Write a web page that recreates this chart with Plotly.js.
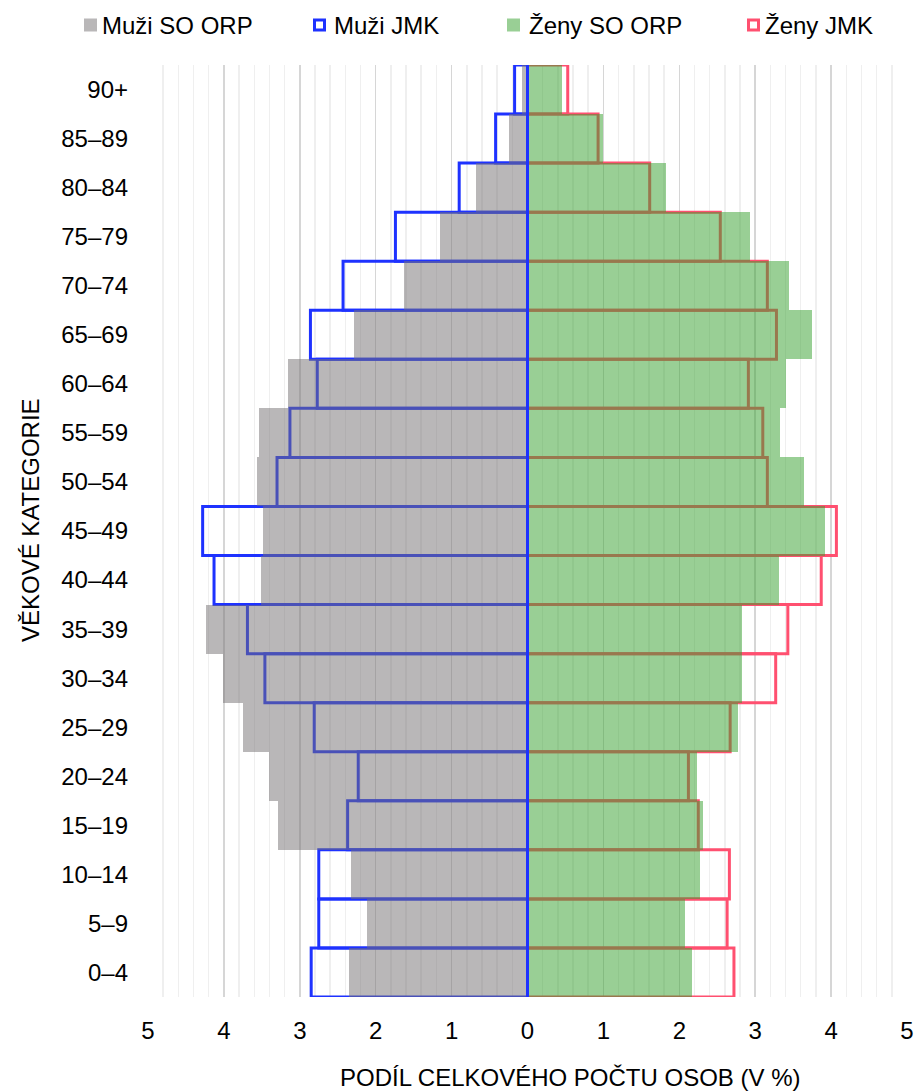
<!DOCTYPE html>
<html>
<head>
<meta charset="utf-8">
<script src="https://cdn.plot.ly/plotly-3.0.1.min.js"></script>
<style>
  html, body { margin: 0; padding: 0; background: #fff; }
  #chart { width: 914px; height: 1092px; }
</style>
</head>
<body>
<div id="chart"></div>
<script>
// ---- data ----
var categories = ['0–4','5–9','10–14','15–19','20–24','25–29','30–34','35–39','40–44','45–49','50–54','55–59','60–64','65–69','70–74','75–79','80–84','85–89','90+'];
var muziSO  = [2.35, 2.12, 2.32, 3.29, 3.40, 3.75, 4.01, 4.24, 3.51, 3.48, 3.57, 3.54, 3.16, 2.29, 1.63, 1.15, 0.68, 0.25, 0.07];
var muziJMK = [2.85, 2.75, 2.75, 2.37, 2.23, 2.81, 3.46, 3.69, 4.13, 4.28, 3.30, 3.13, 2.77, 2.86, 2.43, 1.74, 0.90, 0.42, 0.17];
var zenySO  = [2.17, 2.08, 2.27, 2.31, 2.23, 2.77, 2.83, 2.83, 3.32, 3.92, 3.64, 3.33, 3.40, 3.75, 3.45, 2.93, 1.83, 1.00, 0.45];
var zenyJMK = [2.72, 2.63, 2.66, 2.25, 2.12, 2.67, 3.27, 3.43, 3.87, 4.07, 3.16, 3.10, 2.91, 3.28, 3.16, 2.54, 1.61, 0.93, 0.53];
var seriesNames = ['Muži SO ORP', 'Muži JMK', 'Ženy SO ORP', 'Ženy JMK'];
var xTickVals = [-5, -4, -3, -2, -1, 0, 1, 2, 3, 4, 5];
var xTickText = ['5', '4', '3', '2', '1', '0', '1', '2', '3', '4', '5'];
var xTitle = 'PODÍL CELKOVÉHO POČTU OSOB (V %)';
var yTitle = 'VĚKOVÉ KATEGORIE';

// ---- styles ----
var FONT = '"Liberation Sans", Arial, sans-serif';
var BLUE = 'rgb(30,50,255)';
var RED = 'rgb(255,80,112)';
var GREY = 'rgba(115,111,113,0.5)';
var GREEN = 'rgba(51,160,44,0.5)';
var W = 914, H = 1092;
var M = {l: 148, r: 7, t: 65, b: 95};
var PW = W - M.l - M.r, PH = H - M.t - M.b;
function PX(x) { return (x - M.l) / PW; }
function PY(y) { return (H - M.b - y) / PH; }

function neg(a) { return a.map(function (v) { return -v; }); }

var traces = [
  { type: 'bar', orientation: 'h', name: seriesNames[1], y: categories, x: neg(muziJMK),
    marker: { color: 'rgba(0,0,0,0)', line: { color: BLUE, width: 3 } }, showlegend: false, hoverinfo: 'skip' },
  { type: 'bar', orientation: 'h', name: seriesNames[3], y: categories, x: zenyJMK,
    marker: { color: 'rgba(0,0,0,0)', line: { color: RED, width: 3 } }, showlegend: false, hoverinfo: 'skip' },
  { type: 'bar', orientation: 'h', name: seriesNames[0], y: categories, x: neg(muziSO),
    marker: { color: GREY, line: { width: 0 } }, showlegend: false, hoverinfo: 'skip' },
  { type: 'bar', orientation: 'h', name: seriesNames[2], y: categories, x: zenySO,
    marker: { color: GREEN, line: { width: 0 } }, showlegend: false, hoverinfo: 'skip' }
];

// manual legend (swatch + label)
var legendItems = [
  { name: seriesNames[0], sx: 84,  tx: 100, fill: 'rgb(185,183,184)', line: null },
  { name: seriesNames[1], sx: 313, tx: 332, fill: '#ffffff', line: BLUE },
  { name: seriesNames[2], sx: 507, tx: 527, fill: 'rgb(153,207,149)', line: null },
  { name: seriesNames[3], sx: 747, tx: 763, fill: '#ffffff', line: RED }
];
var legY = 25;
var shapes = [
  { type: 'line', xref: 'x', yref: 'paper', x0: 0, x1: 0, y0: 0, y1: 1,
    line: { color: BLUE, width: 3 }, layer: 'above' }
];
var annotations = [];
legendItems.forEach(function (it) {
  if (it.line) {
    shapes.push({ type: 'rect', xref: 'paper', yref: 'paper',
      x0: PX(it.sx + 1.5), x1: PX(it.sx + 11.5), y0: PY(legY + 5), y1: PY(legY - 5),
      fillcolor: it.fill, line: { color: it.line, width: 3 }, layer: 'above' });
  } else {
    shapes.push({ type: 'rect', xref: 'paper', yref: 'paper',
      x0: PX(it.sx), x1: PX(it.sx + 13), y0: PY(legY + 6.5), y1: PY(legY - 6.5),
      fillcolor: it.fill, line: { width: 0 }, layer: 'above' });
  }
  annotations.push({ xref: 'paper', yref: 'paper', x: PX(it.tx), y: PY(legY),
    xanchor: 'left', yanchor: 'middle', showarrow: false, text: it.name,
    font: { family: FONT, size: 24, color: '#000' } });
});
annotations.push({ xref: 'paper', yref: 'paper', x: PX(570), y: PY(1077),
  xanchor: 'center', yanchor: 'middle', showarrow: false, text: xTitle,
  font: { family: FONT, size: 24, color: '#000' } });
annotations.push({ xref: 'paper', yref: 'paper', x: PX(30), y: PY(520),
  xanchor: 'center', yanchor: 'middle', showarrow: false, text: yTitle, textangle: -90,
  font: { family: FONT, size: 24, color: '#000' } });

var layout = {
  width: W, height: H,
  margin: M,
  paper_bgcolor: '#fff', plot_bgcolor: '#fff',
  barmode: 'overlay', bargap: 0,
  showlegend: false,
  font: { family: FONT, size: 24, color: '#000' },
  xaxis: {
    range: [-5, 5], tickvals: xTickVals, ticktext: xTickText,
    showgrid: true, gridcolor: '#d6d6d6', gridwidth: 1.5,
    minor: { dtick: 0.2, tick0: 0, showgrid: true, gridcolor: '#efefef', gridwidth: 1.5 },
    zeroline: false, showline: false, ticks: '', ticklabelstandoff: 17,
    tickfont: { family: FONT, size: 24, color: '#000' }, fixedrange: true
  },
  yaxis: {
    type: 'category', categoryorder: 'array', categoryarray: categories,
    showgrid: false, zeroline: false, showline: false, ticks: '', ticklabelstandoff: 19,
    tickfont: { family: FONT, size: 24, color: '#000' }, fixedrange: true
  },
  shapes: shapes,
  annotations: annotations
};

Plotly.newPlot('chart', traces, layout, { displayModeBar: false, staticPlot: true });
</script>
</body>
</html>
